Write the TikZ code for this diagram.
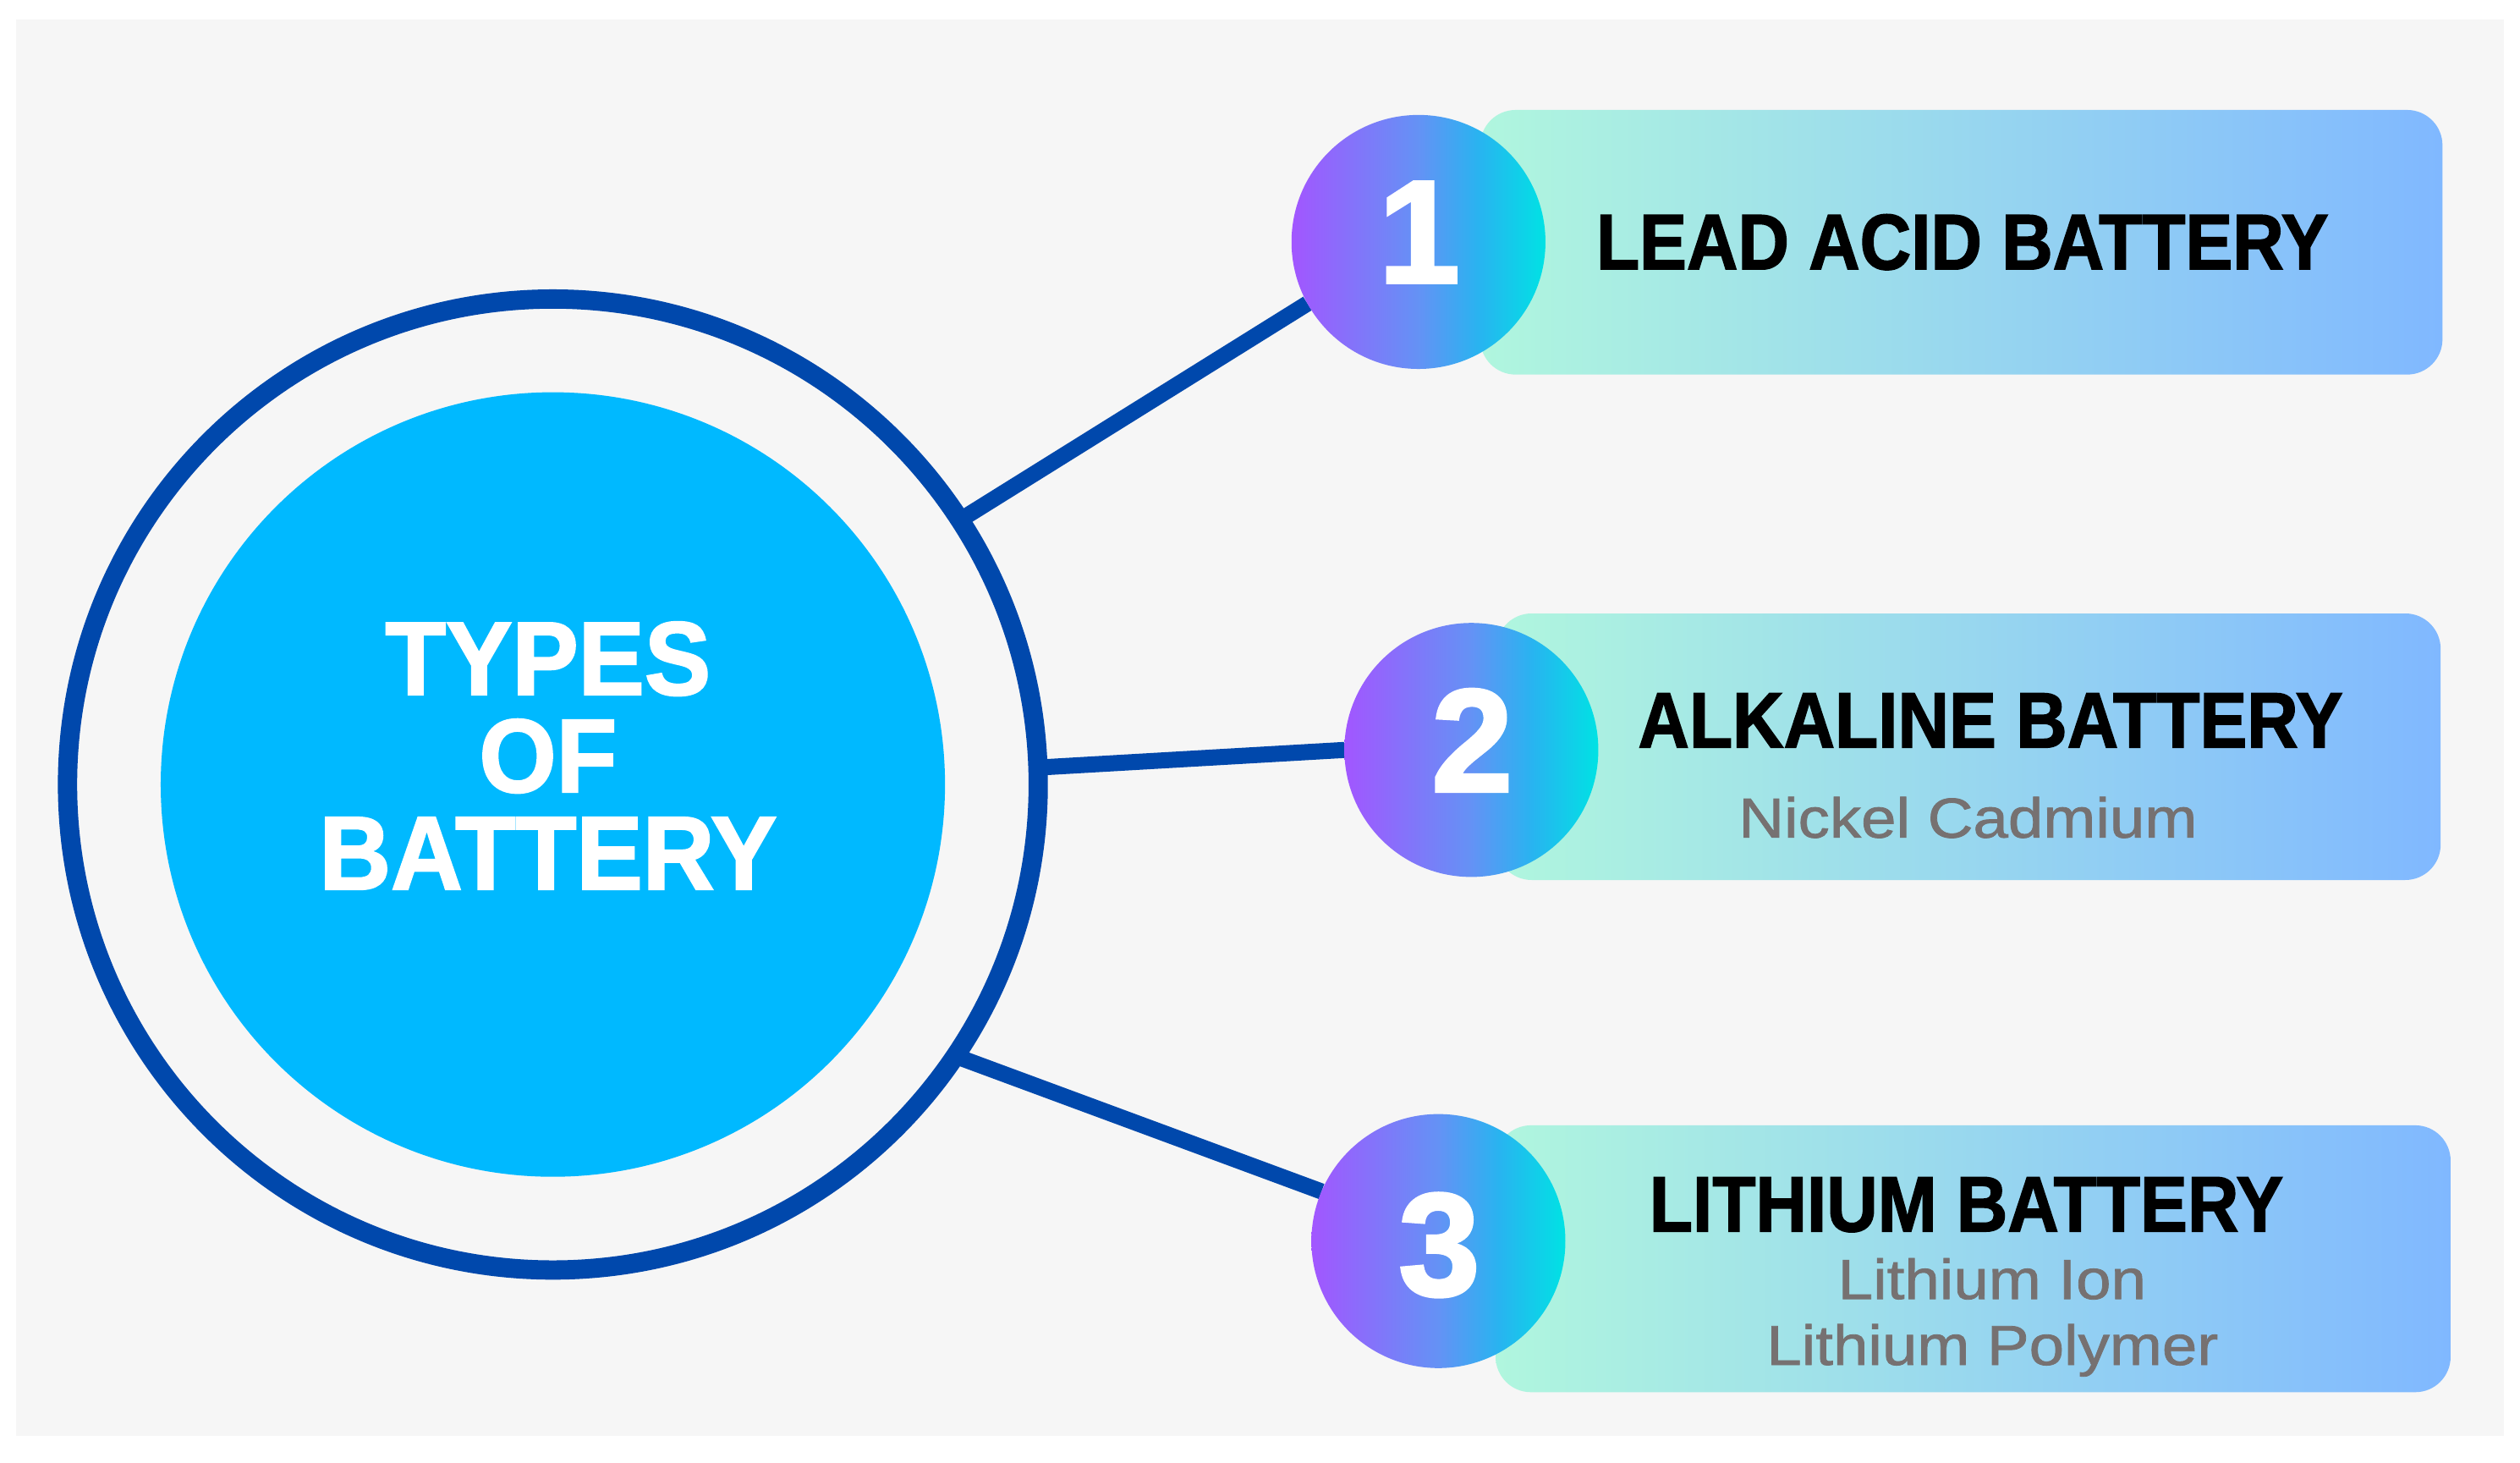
\documentclass[tikz,border=0pt]{standalone}
\usepackage{fontspec}
\setmainfont{Liberation Sans}
\newfontfamily\hdfont[FakeStretch=0.9,FakeBold=1.6]{Liberation Sans}
\newfontfamily\subfont[FakeStretch=1.12,FakeBold=1.2]{Liberation Sans}
\newfontfamily\ttlfont[FakeStretch=0.95,FakeBold=1.8]{Liberation Sans}
\newfontfamily\digfont[FakeStretch=1.0,FakeBold=2.2]{Liberation Sans}
\usetikzlibrary{backgrounds}
\definecolor{bggray}{RGB}{246,246,246}
\definecolor{ringblue}{RGB}{0,72,172}
\definecolor{skyfill}{RGB}{0,185,255}
\definecolor{boxleft}{RGB}{176,246,222}
\definecolor{boxright}{RGB}{128,184,255}
\definecolor{subgray}{RGB}{118,113,113}
\definecolor{bpurple}{RGB}{162,86,255}
\definecolor{bblue}{RGB}{100,146,245}
\definecolor{bsky}{RGB}{40,180,240}
\definecolor{bcyan}{RGB}{0,226,228}
\pgfdeclarehorizontalshading{badgeshade}{100bp}{color(0bp)=(bpurple); color(25bp)=(bpurple); color(50bp)=(bblue); color(62bp)=(bsky); color(75bp)=(bcyan); color(100bp)=(bcyan)}
\tikzset{
  ringnode/.style={circle, draw=ringblue, line width=12pt, minimum size=604pt, inner sep=0pt, outer sep=0pt},
  corenode/.style={circle, fill=skyfill, minimum size=488pt, inner sep=0pt, outer sep=0pt},
  link/.style={draw=ringblue, line width=10pt},
  badge/.style={circle, shading=badgeshade, minimum size=158pt, inner sep=0pt, outer sep=0pt},
  digit/.style={text=white, inner sep=0pt, font=\digfont\bfseries\fontsize{91}{91}\selectfont},
  panel/.style={rounded corners=22pt, left color=boxleft, right color=boxright, inner sep=0pt, outer sep=0pt},
  head/.style={anchor=base, inner sep=0pt, text=black, font=\hdfont\bfseries\fontsize{49}{49}\selectfont},
  subtext/.style={anchor=base, inner sep=0pt, text=subgray, font=\subfont\fontsize{35}{35}\selectfont},
}
\begin{document}
\begin{tikzpicture}[x=1pt,y=-1pt]
\useasboundingbox (0,0) rectangle (1568,910);
% main nodes
\node[ringnode] (ring) at (344,488) {};
\node[corenode] (core) at (344,488) {};
\node[align=center, text=white, inner sep=0pt, font=\ttlfont\bfseries\fontsize{65}{60.5}\selectfont] (title) at (341,470) {TYPES\\OF\\BATTERY};
% panels
\node[panel, minimum width=598.7pt, minimum height=164.6pt] (p1) at (1220.4,150.7) {};
\node[panel, minimum width=587.6pt, minimum height=165.8pt] (p2) at (1224.8,464.5) {};
\node[panel, minimum width=594.2pt, minimum height=166pt] (p3) at (1227.7,783) {};
% badges
\node[badge] (b1) at (882.6,150.5) {};
\node[badge] (b2) at (915.5,466.5) {};
\node[badge] (b3) at (895,772) {};
\node[digit] (n1) at (883,144.5) {1};
\node[digit] (n2) at (916,460.5) {2};
\node[digit] (n3) at (895.5,774.5) {3};
% texts
\node[head] (h1) at (1221,167.5) {LEAD ACID BATTERY};
\node[head] (h2) at (1238.5,465) {ALKALINE BATTERY};
\node[subtext] (s2) at (1224.5,521) {Nickel Cadmium};
\node[head] (h3) at (1223.5,766) {LITHIUM BATTERY};
\node[subtext] (s3a) at (1239.5,808) {Lithium Ion};
\node[subtext] (s3b) at (1239.7,849) {Lithium Polymer};
% background and connectors
\begin{scope}[on background layer]
\fill[white] (0,0) rectangle (1568,910);
\fill[bggray] (10,12) rectangle (1558,893);
\draw[link] (ring.33) -- (b1.209);
\draw[link] (ring.2.6) -- (b2.180);
\draw[link] (ring.-34) -- (b3.157);
\end{scope}
\end{tikzpicture}
\end{document}
